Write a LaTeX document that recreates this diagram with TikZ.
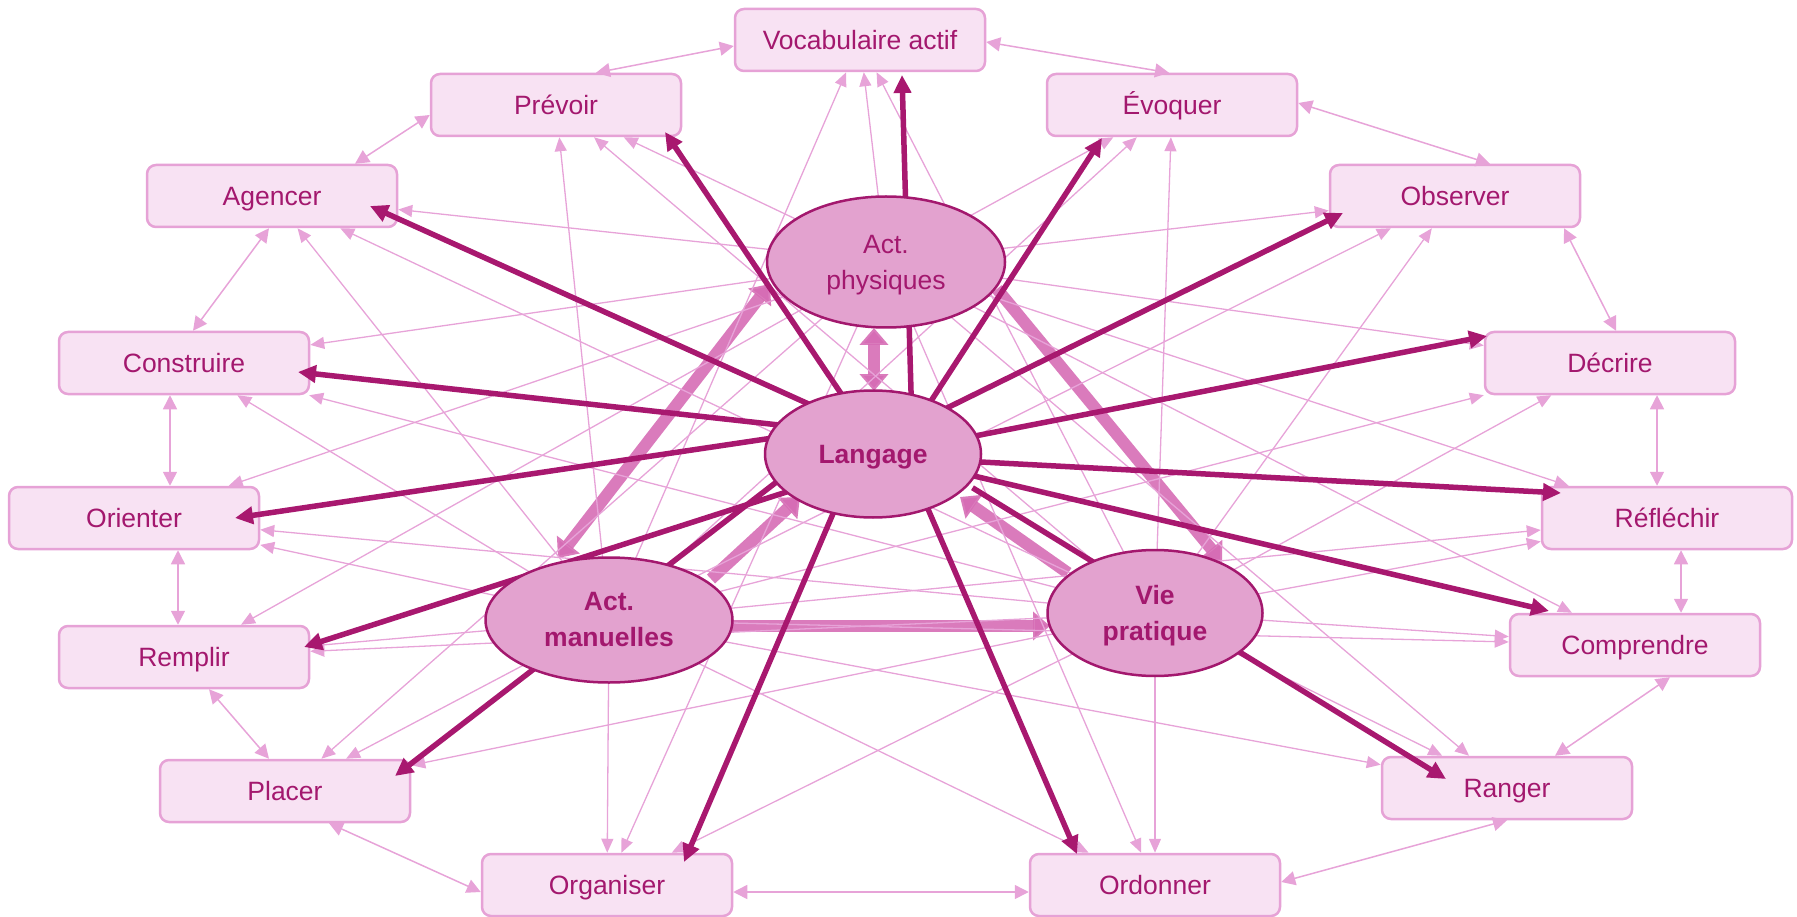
\documentclass[tikz,border=0pt]{standalone}
\usepackage{fontspec}
\setmainfont{Liberation Sans}
\usetikzlibrary{arrows.meta,calc,shapes.geometric}
\definecolor{boxfill}{HTML}{F8E2F3}
\definecolor{boxline}{HTML}{E6A2D6}
\definecolor{txt}{HTML}{A3186E}
\definecolor{ellfill}{HTML}{E3A2CF}
\definecolor{ellline}{HTML}{A3186E}
\definecolor{thickcol}{HTML}{A8186F}
\definecolor{thincol}{HTML}{E7A3D8}
\definecolor{bandcol}{HTML}{D66DB5}
\begin{document}
\begin{tikzpicture}[x=1pt,y=-1pt,
  box/.style={draw=boxline, line width=2.5pt, fill=boxfill, rounded corners=9pt,
    minimum width=250pt, minimum height=62pt, inner sep=0pt, text=txt,
    text height=19pt, text depth=0pt,
    font=\fontsize{26.5}{32}\selectfont},
  ell/.style={ellipse, draw=ellline, line width=2.5pt, fill=ellfill, text=txt,
    align=center, inner sep=0pt, font=\fontsize{26.5}{36}\selectfont},
  thinarrow/.style={draw=thincol, line width=1.3pt, -{Triangle[length=14pt,width=12pt]}},
  ringarrow/.style={draw=thincol, line width=1.5pt,
    {Triangle[length=14pt,width=14pt]}-{Triangle[length=14pt,width=14pt]}},
  thickarrow/.style={draw=thickcol, line width=5.5pt, shorten <=-10pt,
    -{Triangle[length=18pt,width=17pt]}},
  band/.style={draw=bandcol, line width=12pt, draw opacity=0.9,
    -{Triangle[length=17pt,width=28pt]}},
  dband/.style={band, {Triangle[length=17pt,width=28pt]}-{Triangle[length=17pt,width=28pt]}}
]
\useasboundingbox (0,0) rectangle (1797,917);

% boxes
\node[box] (Voc)  at (860,40)   {Vocabulaire actif};
\node[box] (Prev) at (556,105)  {Prévoir};
\node[box] (Evo)  at (1172,105) {Évoquer};
\node[box] (Agen) at (272,196)  {Agencer};
\node[box] (Obs)  at (1455,196) {Observer};
\node[box] (Cons) at (184,363)  {Construire};
\node[box] (Dec)  at (1610,363) {Décrire};
\node[box] (Ori)  at (134,518)  {Orienter};
\node[box] (Ref)  at (1667,518) {Réfléchir};
\node[box] (Rem)  at (184,657)  {Remplir};
\node[box] (Comp) at (1635,645) {Comprendre};
\node[box] (Pla)  at (285,791)  {Placer};
\node[box] (Ran)  at (1507,788) {Ranger};
\node[box] (Org)  at (607,885)  {Organiser};
\node[box] (Ord)  at (1155,885) {Ordonner};

% ellipse centres (nodes drawn later, on top)
\coordinate (APc) at (886,262);
\coordinate (Lc)  at (873,454);
\coordinate (AMc) at (609,620);
\coordinate (VPc) at (1155,613);

% invisible ellipse shapes for clipping of thin lines
\node[ellipse, minimum width=238pt, minimum height=131pt, inner sep=0pt] (APs) at (APc) {};
\node[ellipse, minimum width=247pt, minimum height=125pt, inner sep=0pt] (AMs) at (AMc) {};
\node[ellipse, minimum width=215pt, minimum height=126pt, inner sep=0pt] (VPs) at (VPc) {};

% ring of double arrows
\draw[ringarrow] ($(Prev.north)+(40,0)$) -- ($(Voc.west)+(0,6)$);
\draw[ringarrow] ($(Voc.east)+(0,2)$) -- ($(Evo.north)+(-3,0)$);
\draw[ringarrow] ($(Prev.west)+(0,10)$) -- ($(Agen.north)+(83,0)$);
\draw[ringarrow] ($(Evo.east)+(0,-2)$) -- ($(Obs.north)+(35,0)$);
\draw[ringarrow] ($(Agen.south)+(-3,0)$) -- ($(Cons.north)+(9,0)$);
\draw[ringarrow] ($(Obs.south)+(109,0)$) -- ($(Dec.north)+(6,0)$);
\draw[ringarrow] ($(Cons.south)+(-14,0)$) -- ($(Ori.north)+(36,0)$);
\draw[ringarrow] ($(Dec.south)+(47,0)$) -- ($(Ref.north)+(-10,0)$);
\draw[ringarrow] ($(Ori.south)+(44,0)$) -- ($(Rem.north)+(-6,0)$);
\draw[ringarrow] ($(Ref.south)+(14,0)$) -- ($(Comp.north)+(46,0)$);
\draw[ringarrow] ($(Rem.south)+(25,0)$) -- ($(Pla.north)+(-16,0)$);
\draw[ringarrow] ($(Comp.south)+(35,0)$) -- ($(Ran.north)+(48,0)$);
\draw[ringarrow] ($(Pla.south)+(44,0)$) -- ($(Org.west)+(0,7)$);
\draw[ringarrow] ($(Ran.south)+(0,0)$) -- ($(Ord.east)+(0,-3)$);
\draw[ringarrow] ($(Org.east)+(0,7)$) -- ($(Ord.west)+(0,7)$);

% wide bands between the central ellipses
\draw[dband] ($(APc)+(-12,66)$) -- ($(Lc)+(1,-63)$);
\draw[dband] ($(APc)+(-116,22)$) -- ($(AMc)+(-51,-62)$);
\draw[band] ($(APc)+(111,27)$) -- ($(VPc)+(67,-51)$);
\draw[band] ($(AMc)+(102,-41)$) -- ($(Lc)+(-73,43)$);
\draw[band] ($(VPc)+(-87,-40)$) -- ($(Lc)+(87,43)$);
\draw[band] ($(AMc)+(123,6)$) -- ($(VPc)+(-105,13)$);

% thin arrows from the three activity ellipses to every box
\foreach \e in {APs,AMs,VPs}
  \foreach \b in {Voc,Prev,Evo,Agen,Obs,Cons,Dec,Ori,Ref,Rem,Comp,Pla,Ran,Org,Ord}
    \draw[thinarrow] (\e) -- (\b);

% thick arrows from Langage
\draw[thickarrow] ($(Lc)+(38,-63)$)   -- ($(Voc)+(42,35)$);
\draw[thickarrow] ($(Lc)+(-31,-59)$)  -- ($(Prev)+(109,27)$);
\draw[thickarrow] ($(Lc)+(58,-53)$)   -- ($(Evo)+(-70,33)$);
\draw[thickarrow] ($(Lc)+(-71,-53)$)  -- ($(Agen)+(98,10)$);
\draw[thickarrow] ($(Lc)+(76,-47)$)   -- ($(Obs)+(-112,17)$);
\draw[thickarrow] ($(Lc)+(-103,-30)$) -- ($(Cons)+(114,9)$);
\draw[thickarrow] ($(Lc)+(107,-19)$)  -- ($(Dec)+(-123,-27)$);
\draw[thickarrow] ($(Lc)+(-107,-15)$) -- ($(Ori)+(101,0)$);
\draw[thickarrow] ($(Lc)+(108,8)$)    -- ($(Ref)+(-106,-25)$);
\draw[thickarrow] ($(Lc)+(-71,33)$)   -- ($(Rem)+(120,-10)$);
\draw[thickarrow] ($(Lc)+(101,22)$)   -- ($(Comp)+(-86,-34)$);
\draw[thickarrow] ($(Lc)+(-103,33)$)  -- ($(Pla)+(110,-15)$);
\draw[thickarrow] ($(Lc)+(108,39)$)   -- ($(Ran)+(-61,-9)$);
\draw[thickarrow] ($(Lc)+(-41,62)$)   -- ($(Org)+(77,-23)$);
\draw[thickarrow] ($(Lc)+(58,62)$)    -- ($(Ord)+(-78,-31)$);

% central ellipses on top
\node[ell, minimum width=238pt, minimum height=131pt, text depth=0pt] (AP) at (APc) {Act.\\physiques};
\node[ell, minimum width=216pt, minimum height=127pt, text depth=0pt, font=\fontsize{26.5}{36}\selectfont\bfseries] (L) at (Lc) {Langage};
\node[ell, minimum width=247pt, minimum height=125pt, font=\fontsize{26.5}{36}\selectfont\bfseries] (AM) at (AMc) {Act.\\manuelles};
\node[ell, minimum width=215pt, minimum height=126pt, text depth=-10pt, font=\fontsize{26.5}{36}\selectfont\bfseries] (VP) at (VPc) {Vie\\pratique};
\end{tikzpicture}
\end{document}
